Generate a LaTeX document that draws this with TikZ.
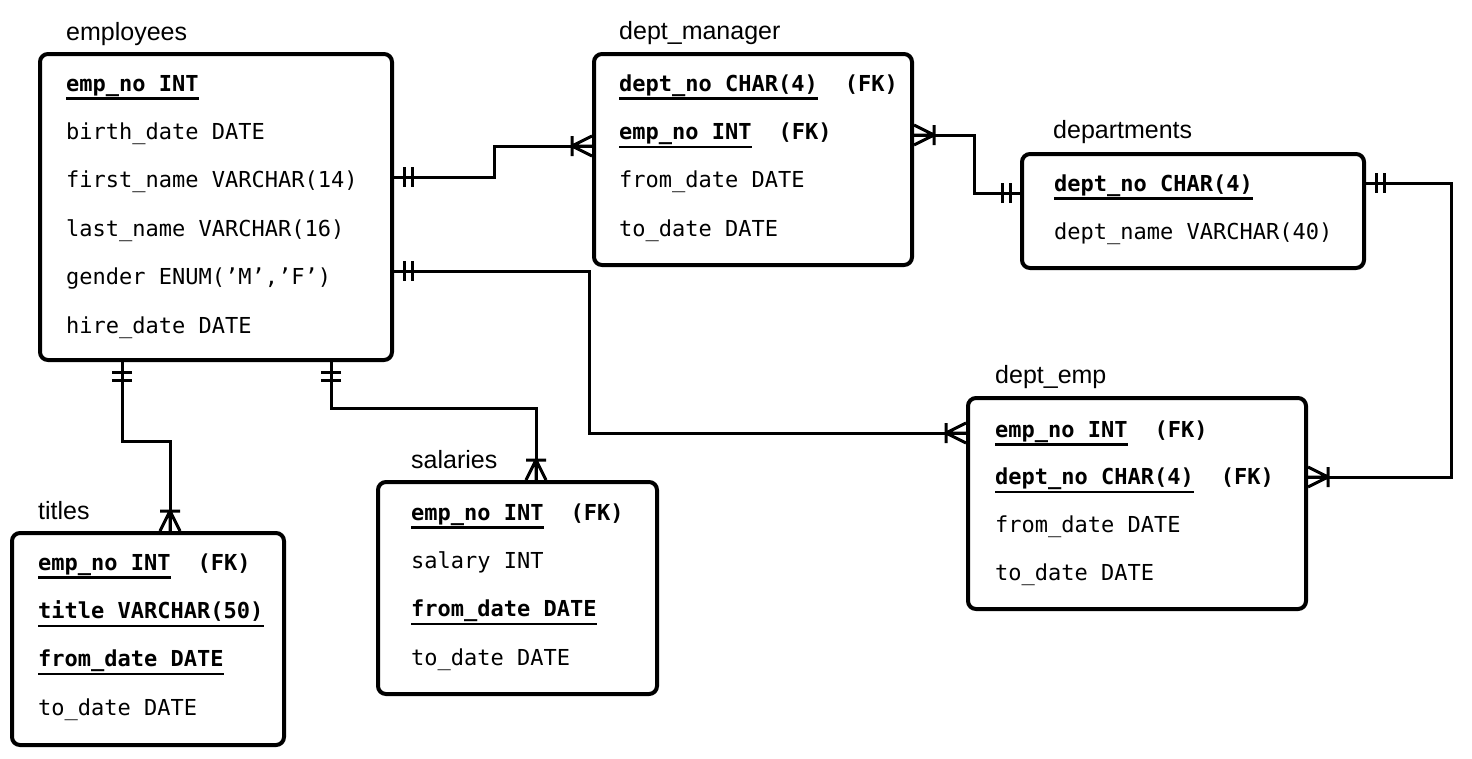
\documentclass[tikz,border=0pt]{standalone}
\usepackage{fontspec}
\setmainfont{Liberation Sans}
\newfontfamily\monof{DejaVu Sans Mono}
\begin{document}
\begin{tikzpicture}[x=1pt,y=-1pt,
  tbl/.style={draw, line width=4pt, rounded corners=8pt, anchor=north west, inner sep=0pt},
  ttl/.style={anchor=base west, inner sep=0pt, font=\fontsize{25}{30}\selectfont},
  fld/.style={anchor=base west, inner sep=0pt, font=\monof\fontsize{22}{26}\selectfont},
  key/.style={anchor=base west, inner sep=0pt, font=\monof\bfseries\fontsize{22}{26}\selectfont},
  conn/.style={line width=3pt},
  ul/.style={line width=2.5pt},
  one/.pic={\draw[conn] (10,-10) -- (10,10) (18,-10) -- (18,10);},
  many/.pic={\draw[conn, line join=round] (0,-10) -- (20,0) -- (0,10) (0,0) -- (20,0) (20,-10) -- (20,10);},
]
\useasboundingbox (0,0) rectangle (1472,758);

% ---------- boxes ----------
\node[tbl, minimum width=352pt, minimum height=306pt] (emp) at (38,52) {};
\node[tbl, minimum width=318pt, minimum height=211pt] (dm)  at (592,52) {};
\node[tbl, minimum width=342pt, minimum height=114pt] (dep) at (1020,152) {};
\node[tbl, minimum width=338pt, minimum height=211pt] (de)  at (966,396) {};
\node[tbl, minimum width=279pt, minimum height=212pt] (sal) at (376,480) {};
\node[tbl, minimum width=272pt, minimum height=212pt] (tit) at (10,531) {};

% ---------- titles ----------
\node[ttl] (empT) at (66,40)  {employees};
\node[ttl] (dmT)  at (619,39) {dept\_manager};
\node[ttl] (depT) at (1053,138) {departments};
\node[ttl] (deT)  at (995,383) {dept\_emp};
\node[ttl] (salT) at (411,468) {salaries};
\node[ttl] (titT) at (38,519) {titles};

% ---------- employees ----------
\node[key] (e1) at (66,91)    {emp\_no INT};
\node[fld] (e2) at (66,139.4) {birth\_date DATE};
\node[fld] (e3) at (66,187.8) {first\_name VARCHAR(14)};
\node[fld] (e4) at (66,236.2) {last\_name VARCHAR(16)};
\node[fld] (e5) at (66,284.6) {gender ENUM(’M’,’F’)};
\node[fld] (e6) at (66,333)   {hire\_date DATE};

% ---------- dept_manager ----------
\node[key] (m1) at (619,91)  {dept\_no CHAR(4)};
\node[key] (m1f) at ([xshift=26.5pt]m1.base east) {(FK)};
\node[key] (m2) at (619,139.4) {emp\_no INT};
\node[key] (m2f) at ([xshift=26.5pt]m2.base east) {(FK)};
\node[fld] (m3) at (619,187.8) {from\_date DATE};
\node[fld] (m4) at (619,236.2) {to\_date DATE};

% ---------- departments ----------
\node[key] (d1) at (1054,191) {dept\_no CHAR(4)};
\node[fld] (d2) at (1054,239) {dept\_name VARCHAR(40)};

% ---------- dept_emp ----------
\node[key] (de1) at (995,437) {emp\_no INT};
\node[key] (de1f) at ([xshift=26.5pt]de1.base east) {(FK)};
\node[key] (de2) at (995,484.7) {dept\_no CHAR(4)};
\node[key] (de2f) at ([xshift=26.5pt]de2.base east) {(FK)};
\node[fld] (de3) at (995,532.4) {from\_date DATE};
\node[fld] (de4) at (995,580.1) {to\_date DATE};

% ---------- salaries ----------
\node[key] (s1) at (411,520) {emp\_no INT};
\node[key] (s1f) at ([xshift=26.5pt]s1.base east) {(FK)};
\node[fld] (s2) at (411,568.3) {salary INT};
\node[key] (s3) at (411,616.6) {from\_date DATE};
\node[fld] (s4) at (411,665) {to\_date DATE};

% ---------- titles ----------
\node[key] (t1) at (38,570) {emp\_no INT};
\node[key] (t1f) at ([xshift=26.5pt]t1.base east) {(FK)};
\node[key] (t2) at (38,618.3) {title VARCHAR(50)};
\node[key] (t3) at (38,666.6) {from\_date DATE};
\node[fld] (t4) at (38,715) {to\_date DATE};

% ---------- underlines ----------
\foreach \n in {e1,m1,m2,d1,de1,de2,s1,s3,t1,t2,t3}
  \draw[ul] ([yshift=-7.5pt]\n.base west) -- ([yshift=-7.5pt]\n.base east);

% ---------- connection points ----------
\coordinate (p1a) at ([yshift=-125pt]emp.north east);
\coordinate (p1b) at ([yshift=-94pt]dm.north west);
\coordinate (p2a) at ([yshift=-83pt]dm.north east);
\coordinate (p2b) at ([yshift=-41pt]dep.north west);
\coordinate (p3a) at ([yshift=-31pt]dep.north east);
\coordinate (p3b) at ([yshift=-81pt]de.north east);
\coordinate (p4a) at ([yshift=-219pt]emp.north east);
\coordinate (p4b) at ([yshift=-37pt]de.north west);
\coordinate (p5a) at ([xshift=84pt]emp.south west);
\coordinate (p5b) at ([xshift=160pt]tit.north west);
\coordinate (p6a) at ([xshift=293pt]emp.south west);
\coordinate (p6b) at ([xshift=160pt]sal.north west);

% ---------- connectors ----------
\draw[conn] (p1a) -- ++(100,0) |- (p1b);
\draw[conn] (p2a) -- ++(60,0) |- (p2b);
\draw[conn] (p3a) -- ++(85,0) |- (p3b);
\draw[conn] (p4a) -- ++(195,0) |- (p4b);
\draw[conn] (p5a) -- ++(0,79) -| (p5b);
\draw[conn] (p6a) -- ++(0,46) -| (p6b);

% ---------- cardinality marks ----------
\pic at (p1a) {one};
\pic[rotate=180] at (p1b) {many};
\pic at (p2a) {many};
\pic[rotate=180] at (p2b) {one};
\pic at (p3a) {one};
\pic at (p3b) {many};
\pic at (p4a) {one};
\pic[rotate=180] at (p4b) {many};
\pic[rotate=-90] at (p5a) {one};
\pic[rotate=90] at (p5b) {many};
\pic[rotate=-90] at (p6a) {one};
\pic[rotate=90] at (p6b) {many};
\end{tikzpicture}
\end{document}
